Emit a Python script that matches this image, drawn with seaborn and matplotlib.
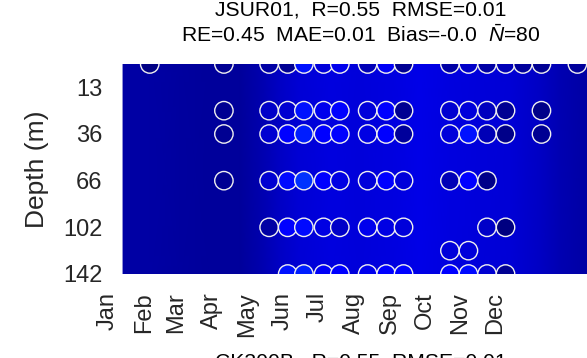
import numpy as np
import pandas as pd
import matplotlib
matplotlib.use("Agg")
from matplotlib import pyplot as plt
import seaborn as sns

# ---- data ----
month_names = ["Jan", "Feb", "Mar", "Apr", "May", "Jun",
               "Jul", "Aug", "Sep", "Oct", "Nov", "Dec"]
month_days = [1, 32, 60, 91, 121, 152, 182, 213, 244, 274, 305, 335]

depth_ticks = [1, 3, 5, 7, 9]          # level index
depth_labels = ["13", "36", "66", "102", "142"]

# background (model) profile along the year, same at every depth
bg_day = [14, 37, 63, 89, 115, 132, 149, 167, 193, 218, 244, 270, 296, 322, 348, 374, 391, 414, 440]
bg_val = [0.035, 0.035, 0.030, 0.025, 0.025, 0.040, 0.060, 0.075, 0.085, 0.080,
          0.085, 0.090, 0.085, 0.080, 0.075, 0.060, 0.045, 0.035, 0.030]

# observations: day of year, depth level, value
obs_day = [37,
           101, 101, 101, 101,
           140, 140, 140, 140, 140,
           156, 156, 156, 156, 156, 156,
           170, 170, 170, 170, 170, 170,
           187, 187, 187, 187, 187, 187,
           201, 201, 201, 201, 201, 201,
           225, 225, 225, 225, 225, 225,
           241, 241, 241, 241, 241, 241,
           256, 256, 256, 256, 256, 256,
           296, 296, 296, 296, 296, 296,
           312, 312, 312, 312, 312, 312,
           328, 328, 328, 328, 328, 328,
           344, 344, 344, 344, 344,
           359,
           375, 375, 375,
           406]
obs_lev = [0,
           0, 2, 3, 5,
           0, 2, 3, 5, 7,
           0, 2, 3, 5, 7, 9,
           0, 2, 3, 5, 7, 9,
           0, 2, 3, 5, 7, 9,
           0, 2, 3, 5, 7, 9,
           0, 2, 3, 5, 7, 9,
           0, 2, 3, 5, 7, 9,
           0, 2, 3, 5, 7, 9,
           0, 2, 3, 5, 8, 9,
           0, 2, 3, 5, 8, 9,
           0, 2, 3, 5, 7, 9,
           0, 2, 3, 7, 9,
           0,
           0, 2, 3,
           0]
obs_val = [0.005,
           0.016, 0.016, 0.016, 0.016,
           0.032, 0.063, 0.071, 0.071, 0.032,
           0.016, 0.071, 0.110, 0.133, 0.110, 0.141,
           0.141, 0.141, 0.156, 0.172, 0.133, 0.156,
           0.079, 0.095, 0.110, 0.110, 0.087, 0.102,
           0.095, 0.125, 0.125, 0.087, 0.063, 0.110,
           0.048, 0.079, 0.087, 0.079, 0.095, 0.095,
           0.102, 0.110, 0.110, 0.110, 0.087, 0.110,
           0.016, 0.016, 0.024, 0.079, 0.079, 0.125,
           0.032, 0.071, 0.079, 0.048, 0.079, 0.118,
           0.063, 0.079, 0.141, 0.110, 0.079, 0.133,
           0.032, 0.055, 0.048, 0.008, 0.063, 0.071,
           0.048, 0.016, 0.008, 0.000, 0.016,
           0.024,
           0.016, 0.008, 0.016,
           0.024]

obs = pd.DataFrame({"day": obs_day, "level": obs_lev, "value": obs_val})

# ---- figure ----
plt.rcParams["font.family"] = ["Liberation Sans", "DejaVu Sans"]
plt.rcParams["mathtext.fontset"] = "custom"
plt.rcParams["mathtext.it"] = "Liberation Sans:italic"
plt.rcParams["mathtext.rm"] = "Liberation Sans"

jet = plt.get_cmap("jet")

fig = plt.figure(figsize=(5.87, 3.58), dpi=100)
ax = fig.add_axes([108 / 587, 84 / 358, 506 / 587, 210 / 358])

X, Y = np.meshgrid(bg_day, [-0.5, 9.5])
C = np.tile(bg_val, (2, 1))
ax.pcolormesh(X, Y, C, cmap=jet, vmin=0, vmax=1, shading="gouraud")

sns.scatterplot(data=obs, x="day", y="level", hue="value", palette=jet,
                hue_norm=(0, 1), s=175, edgecolor="#f0f0f0", linewidth=1.0,
                legend=False, ax=ax, zorder=3)

ax.set_xlim(1, 1 + 506 / 1.159)
ax.set_ylim(9, 0)
ax.set_xticks(month_days)
ax.set_xticklabels(month_names, rotation=90, fontsize=17, color="#262626")
ax.set_yticks(depth_ticks)
ax.set_yticklabels(depth_labels, fontsize=17, color="#262626")
ax.tick_params(axis="both", length=0)
ax.tick_params(axis="x", pad=13)
ax.tick_params(axis="y", pad=4)
for sp in ax.spines.values():
    sp.set_visible(False)
ax.set_xlabel("")
ax.set_ylabel("Depth (m)", fontsize=19, color="#262626", labelpad=10)

ax.set_title("JSUR01,  R=0.55  RMSE=0.01\nRE=0.45  MAE=0.01  Bias=-0.0  $\\bar{N}$=80",
             fontsize=15.2, color="black", pad=15.5, linespacing=1.3)

# title of the panel below, cut by the figure edge
fig.text(361 / 587, 1 - 353 / 358, "CK300B,  R=0.55  RMSE=0.01", ha="center", va="top",
         fontsize=15.2, color="black")

fig.savefig("out.png", dpi=100)
